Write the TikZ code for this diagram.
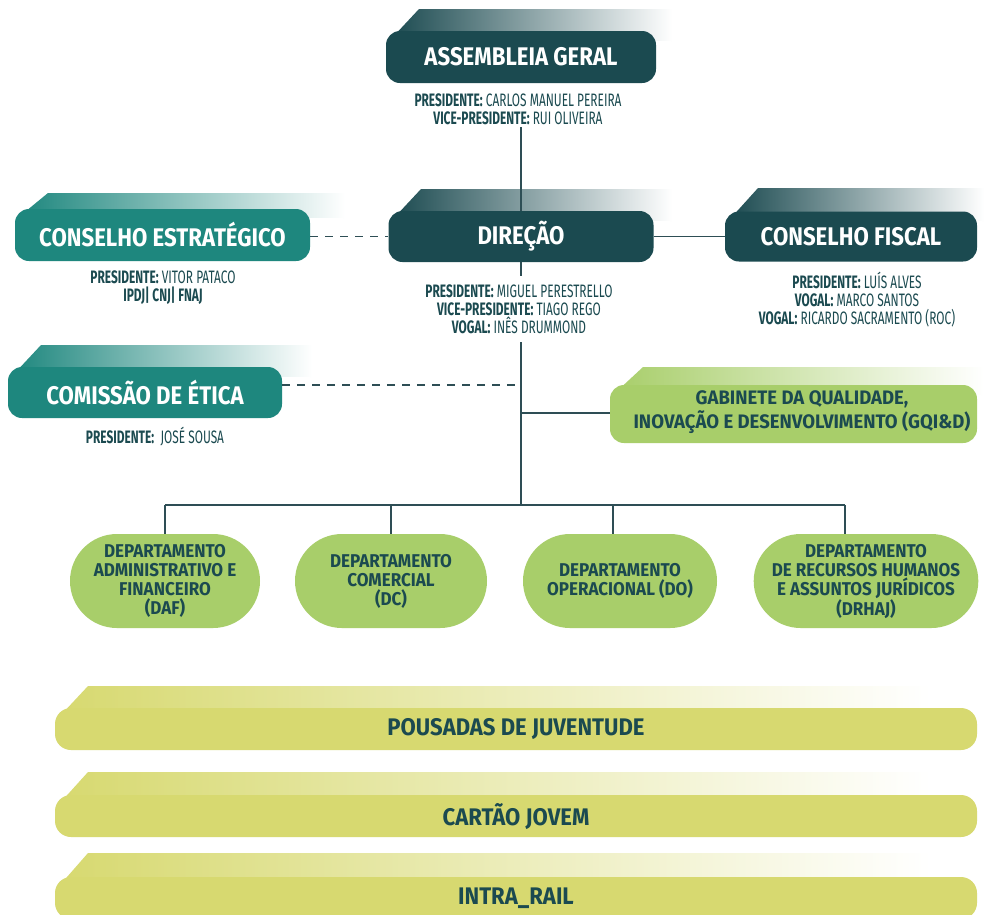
\documentclass[tikz,border=0pt]{standalone}
\usepackage{fontspec}
\setmainfont{Fira Sans}
\newfontfamily\hdf[FakeStretch=0.87]{Fira Sans}
\newfontfamily\smf[FakeStretch=0.66]{Fira Sans}
\newfontfamily\dpf[FakeStretch=0.92]{Fira Sans}
\newfontfamily\gqf[FakeStretch=0.95]{Fira Sans}
\newfontfamily\brf[FakeStretch=0.92]{Fira Sans}
\usetikzlibrary{shapes.misc}
\definecolor{dteal}{HTML}{1B4A50}
\definecolor{tealc}{HTML}{1E877E}
\definecolor{lgreen}{HTML}{A8CE6A}
\definecolor{ygreen}{HTML}{D7D970}
\definecolor{linec}{HTML}{2E4E55}
\newcommand\tabsh[5]{% xL, boxtop, tabtop, tabright, colour
  \shade[left color=#5, right color=white] (#1+5,#2+8) -- (#1+33,#3) -- (#4,#3) -- (#4,#2+10) -- cycle;}
\begin{document}
\begin{tikzpicture}[x=1pt,y=-1pt,
  hdr/.style={rounded corners=14pt, inner sep=0pt, text=white,
    font=\hdf\bfseries\fontsize{25.5}{29}\selectfont},
  info/.style={align=center, inner sep=0pt, text=dteal,
    font=\smf\fontsize{18}{17.8}\selectfont},
  dept/.style={rounded rectangle, fill=lgreen, inner sep=0pt, text=dteal, align=center,
    minimum height=94pt, font=\dpf\bfseries\fontsize{18.5}{19}\selectfont},
  bar/.style={rounded corners=16pt, fill=ygreen, inner sep=0pt, text=dteal,
    minimum width=922pt, minimum height=42pt, font=\brf\bfseries\fontsize{24}{27}\selectfont},
  conn/.style={draw=linec, line width=1.4pt},
  dconn/.style={conn, dash pattern=on 8pt off 7pt}]
\clip (0,0) rectangle (984,914);
\fill[white] (0,0) rectangle (984,914);

% tabs
\tabsh{386}{31}{9}{672}{dteal}
\tabsh{388}{211}{189}{672}{dteal}
\tabsh{725}{211}{188}{984}{dteal}
\tabsh{15}{208}{193}{345}{tealc}
\tabsh{8}{367}{345}{312}{tealc}
\tabsh{610}{385}{367}{984}{lgreen}
\tabsh{55}{708}{686}{930}{ygreen}
\tabsh{55}{795}{772}{930}{ygreen}
\tabsh{55}{877}{853}{930}{ygreen}

% header boxes
\node[hdr, fill=dteal, minimum width=270pt, minimum height=52pt] (ag) at (521,57) {ASSEMBLEIA GERAL};
\node[hdr, fill=dteal, minimum width=265pt, minimum height=51pt] (dir) at (521,236.5) {DIREÇÃO};
\node[hdr, fill=dteal, minimum width=252pt, minimum height=50pt] (cf) at (851,236.5) {CONSELHO FISCAL};
\node[hdr, fill=tealc, minimum width=295pt, minimum height=52pt] (ce) at (162.5,235) {CONSELHO ESTRATÉGICO};
\node[hdr, fill=tealc, minimum width=274pt, minimum height=51pt] (et) at (145,392.5) {COMISSÃO DE ÉTICA};
\node[hdr, fill=lgreen, minimum width=367pt, minimum height=58pt] (gq) at (793.5,414) {};
\node[align=center, inner sep=0pt, text=dteal,
  font=\gqf\bfseries\fontsize{19.5}{24}\selectfont] (gqt) at (802,412.5) {GABINETE DA QUALIDADE,\\INOVAÇÃO E DESENVOLVIMENTO (GQI\&D)};

% info texts
\node[info] (agi) at (518,109.5) {\textbf{PRESIDENTE:} CARLOS MANUEL PEREIRA\\\textbf{VICE-PRESIDENTE:} RUI OLIVEIRA};
\node[info] (diri) at (519,309.5) {\textbf{PRESIDENTE:} MIGUEL PERESTRELLO\\\textbf{VICE-PRESIDENTE:} TIAGO REGO\\\textbf{VOGAL:} INÊS DRUMMOND};
\node[info] (cei) at (163,288) {\textbf{PRESIDENTE:} VITOR PATACO\\\textbf{IPDJ| CNJ| FNAJ}};
\node[info] (cfi) at (857,299.5) {\textbf{PRESIDENTE:} LUÍS ALVES\\\textbf{VOGAL:} MARCO SANTOS\\\textbf{VOGAL:} RICARDO SACRAMENTO (ROC)};
\node[info] (eti) at (155,437) {\textbf{PRESIDENTE:}\ \ JOSÉ SOUSA};

% departments
\node[dept, minimum width=190pt] (daf) at (165,581) {DEPARTAMENTO\\ADMINISTRATIVO E\\FINANCEIRO\\(DAF)};
\node[dept, minimum width=192pt] (dc) at (391,581) {DEPARTAMENTO\\COMERCIAL\\(DC)};
\node[dept, minimum width=194pt] (do) at (620,581) {DEPARTAMENTO\\OPERACIONAL (DO)};
\node[dept, minimum width=218pt] (dr) at (866,581) {DEPARTAMENTO\\DE RECURSOS HUMANOS\\E ASSUNTOS JURÍDICOS\\(DRHAJ)};

% bars
\node[bar] (pj) at (516,729) {POUSADAS DE JUVENTUDE};
\node[bar] (cj) at (516,816) {CARTÃO JOVEM};
\node[bar] (ir) at (516,898) {INTRA\_RAIL};

% connectors
\coordinate (v0) at (521,127);
\coordinate (v1) at (521,276);
\coordinate (v2) at (521,342);
\coordinate (ej) at (521,385);
\coordinate (gj) at (521,413);
\coordinate (bus) at (521,505);
\coordinate (b1) at (165,505);
\coordinate (b2) at (391,505);
\coordinate (b3) at (613,505);
\coordinate (b4) at (845,505);
\draw[conn] (v0) -- (dir.north);
\draw[conn] (dir.south) -- (v1);
\draw[conn] (v2) -- (bus);
\draw[conn] (dir.east) -- (cf.west);
\draw[dconn] (ce.east |- dir.west) -- (dir.west);
\draw[dconn] (et.east |- ej) -- (ej);
\draw[conn] (gj) -- (gq.west |- gj);
\draw[conn] (b1) -- (b4);
\draw[conn] (b1) -- (daf.north);
\draw[conn] (b2) -- (dc.north);
\draw[conn] (b3) -- (b3 |- do.north);
\draw[conn] (b4) -- (b4 |- dr.north);
\end{tikzpicture}
\end{document}
